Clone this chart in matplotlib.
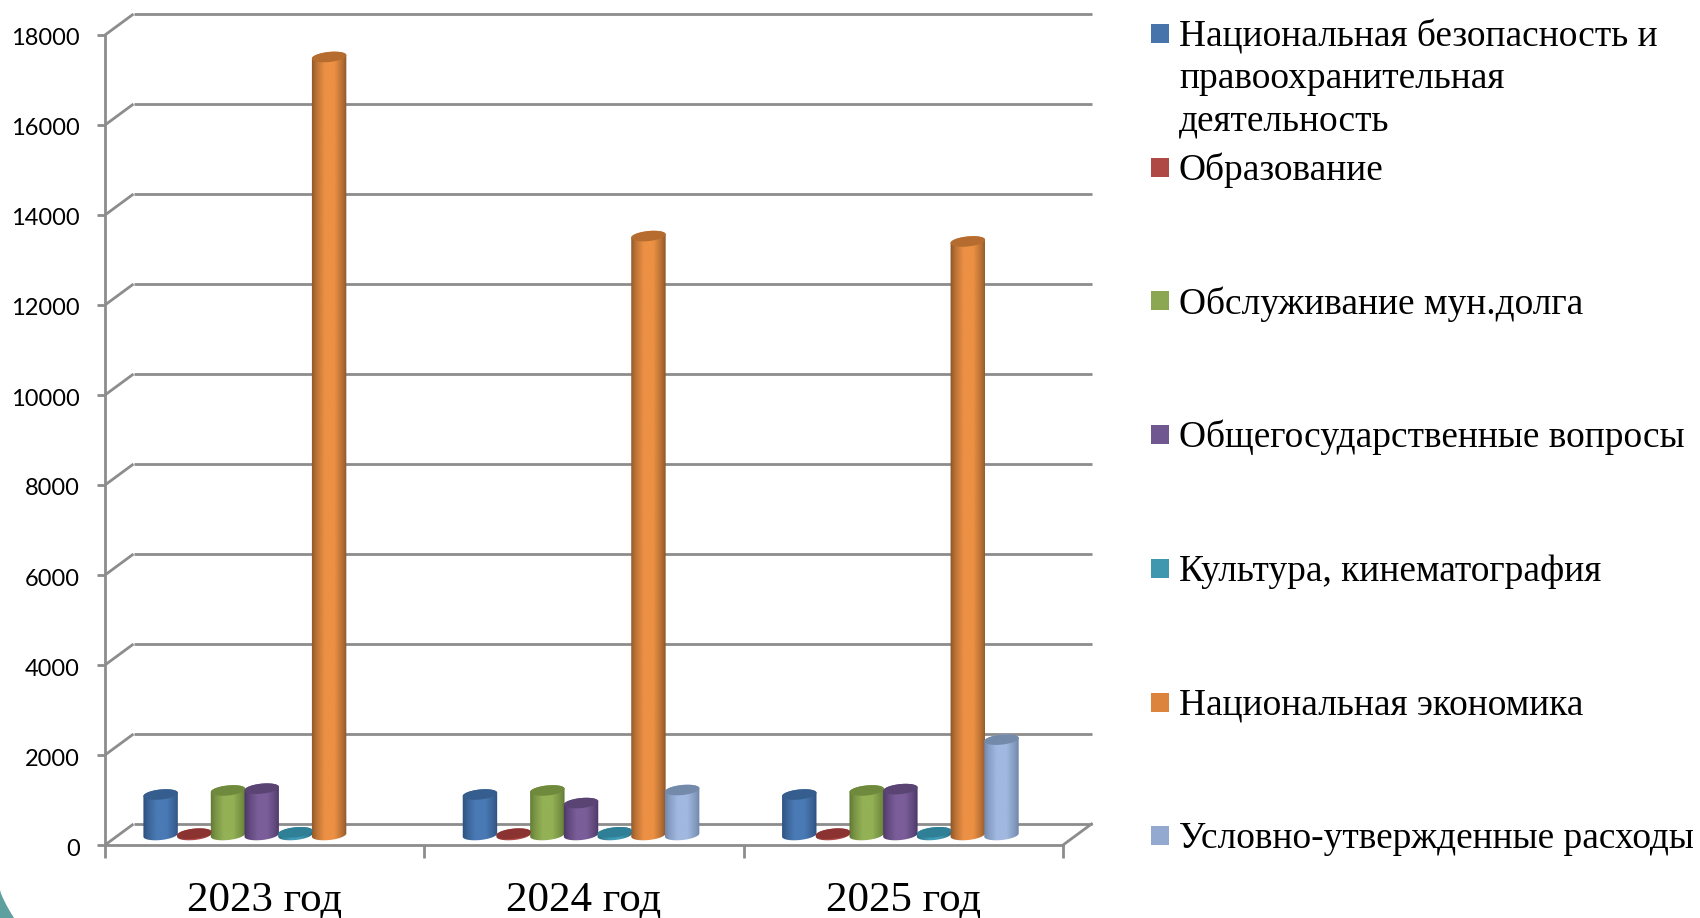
import matplotlib
matplotlib.use('Agg')
import matplotlib.pyplot as plt
import numpy as np
from matplotlib.patches import PathPatch, Polygon, Rectangle
from matplotlib.path import Path
from matplotlib.transforms import IdentityTransform, Affine2D

years = ['2023 год', '2024 год', '2025 год']
series_names = ['Национальная безопасность и\nправоохранительная\nдеятельность',
                'Образование',
                'Обслуживание мун.долга',
                'Общегосударственные вопросы',
                'Культура, кинематография',
                'Национальная экономика',
                'Условно-утвержденные расходы']
security = [900, 900, 900]
education = [30, 30, 30]
debt = [990, 990, 990]
general = [1030, 710, 1020]
culture = [60, 60, 60]
economy = [17290, 13310, 13190]
approved = [0, 1000, 2120]
values = [security, education, debt, general, culture, economy, approved]
y_ticks = list(range(0, 18001, 2000))

# side colour (edge, middle), top ellipse colour, legend colour
body_edge = ['#2c4f7c', '#7c2f2d', '#5f7733', '#493563', '#25687b', '#8a5427', '#6d83a6']
body_mid = ['#4a7ab5', '#b04b48', '#93b155', '#7a5d99', '#3f9ab4', '#ec9044', '#a1b8e0']
top_col = ['#355d8d', '#8b3331', '#6f8a3c', '#5a4474', '#2f7f96', '#b56c2e', '#748aab']
legend_col = ['#4775ab', '#ae4946', '#8ba752', '#71578f', '#3e97ae', '#dc843e', '#94a9cf']
GREY = '#8c8c8c'

W, H = 1700, 918
fig = plt.figure(figsize=(W / 100, H / 100), dpi=100, facecolor='white')

# front plane of the 3d box
ax = fig.add_axes([105 / W, (H - 845) / H, 958 / W, 810 / H])
ax.set_xlim(0, 3)
ax.set_ylim(0, 18000)
ax.patch.set_visible(False)
for s in ['top', 'right']:
    ax.spines[s].set_visible(False)
for s in ['left', 'bottom']:
    ax.spines[s].set_color(GREY)
    ax.spines[s].set_linewidth(2.0)
ax.spines['left'].set_bounds(0, 18000)

ax.set_yticks(y_ticks)
ax.set_yticklabels([str(v) for v in y_ticks], family='Lato', fontsize=17, color='black')
ax.tick_params(axis='y', length=6, width=2, color=GREY, pad=12)
for lab in ax.get_yticklabels():
    lab.set_transform(lab.get_transform() + Affine2D().translate(0, -2))
ax.set_xticks([0, 1, 2, 3])
ax.set_xticklabels([])
ax.tick_params(axis='x', which='major', length=9, width=2, color=GREY)
ax.set_xticks([0.5, 1.5, 2.5], years, minor=True, family='Liberation Serif', fontsize=31)
ax.tick_params(axis='x', which='minor', length=0, pad=26.5)

depth_x = 28.5 / (958 / 3)
depth_y = 21 / (810 / 18000)

for v in y_ticks:
    ax.plot([0, depth_x], [v, v + depth_y], color=GREY, lw=2.0, clip_on=False, zorder=1,
            solid_capstyle='butt')
    ax.plot([depth_x, 3 + depth_x], [v + depth_y] * 2, color=GREY, lw=2.0, clip_on=False, zorder=1,
            solid_capstyle='butt')
ax.plot([3, 3 + depth_x], [0, depth_y], color=GREY, lw=2.0, clip_on=False, zorder=1)

ax.figure.canvas.draw()


def ellipse_pts(cx, cy, t):
    a, b, th = 17.3, 5.0, np.radians(6)
    x = cx + a * np.cos(t) * np.cos(th) - b * np.sin(t) * np.sin(th)
    y = cy + a * np.cos(t) * np.sin(th) + b * np.sin(t) * np.cos(th)
    return np.column_stack([x, y])


def cylinder(xc, val, n):
    (cx, y0) = ax.transData.transform((xc, 222))
    (_, y1) = ax.transData.transform((xc, 222 + val))
    low = ellipse_pts(cx, y0, np.linspace(np.pi, 2 * np.pi, 40))
    up = ellipse_pts(cx, y1, np.linspace(0, np.pi, 40))
    pts = np.vstack([low, up, low[:1]])
    body = PathPatch(Path(pts), transform=IdentityTransform(), fc='none', ec='none')
    ax.add_patch(body)
    # shading across the cylinder
    pos = np.linspace(0, 1, 64)
    shade = np.interp(pos, [0, 0.15, 0.38, 0.65, 0.88, 1], [0.0, 0.5, 1, 1, 0.45, 0.05])
    c0 = np.array(matplotlib.colors.to_rgb(body_edge[n]))
    c1 = np.array(matplotlib.colors.to_rgb(body_mid[n]))
    img = (c0 + np.outer(shade, c1 - c0))[np.newaxis, :, :]
    w = 18.0 / (958 / 3)
    im = ax.imshow(img, extent=[xc - w, xc + w, 0, 222 + val + 300], aspect='auto',
                   interpolation='bilinear', zorder=3)
    im.set_clip_path(body)
    top = ellipse_pts(cx, y1, np.linspace(0, 2 * np.pi, 80))
    ax.add_patch(Polygon(top, closed=True, transform=IdentityTransform(), fc=top_col[n],
                         ec='none', zorder=4))


bar_w = 33.7 / (958 / 3)
first = 55.5 / (958 / 3)
for g in range(len(years)):
    for n in range(len(values)):
        if values[n][g] <= 0:
            continue
        cylinder(g + first * (320 / 319.33) + n * bar_w, values[n][g], n)
ax.set_xlim(0, 3)
ax.set_ylim(0, 18000)

# legend, laid out by hand like the PowerPoint one
row_y = 33.5
row_h = 133.7
for n, name in enumerate(series_names):
    y = row_y + n * row_h
    fig.patches.append(Rectangle((1151 / W, 1 - (y + 9.5) / H), 18 / W, 19 / H,
                                 transform=fig.transFigure, fc=legend_col[n], ec='none'))
    for k, line in enumerate(name.split('\n')):
        fig.text(1179 / W, 1 - (y + 3 + k * 42.6) / H, line, family='Liberation Serif',
                 fontsize=26.9, color='black', va='center', ha='left')

# corner of the slide decoration
t = np.linspace(0, 1, 20)
corner = np.column_stack([t * 14, 890 + 28 * t ** 0.8])
corner = np.vstack([corner, [[0, 918]]])
fig.patches.append(Polygon(np.column_stack([corner[:, 0] / W, 1 - corner[:, 1] / H]), closed=True,
                           transform=fig.transFigure, fc='#5e9fa0', ec='none'))

fig.savefig('out.png', dpi=100, facecolor='white')
